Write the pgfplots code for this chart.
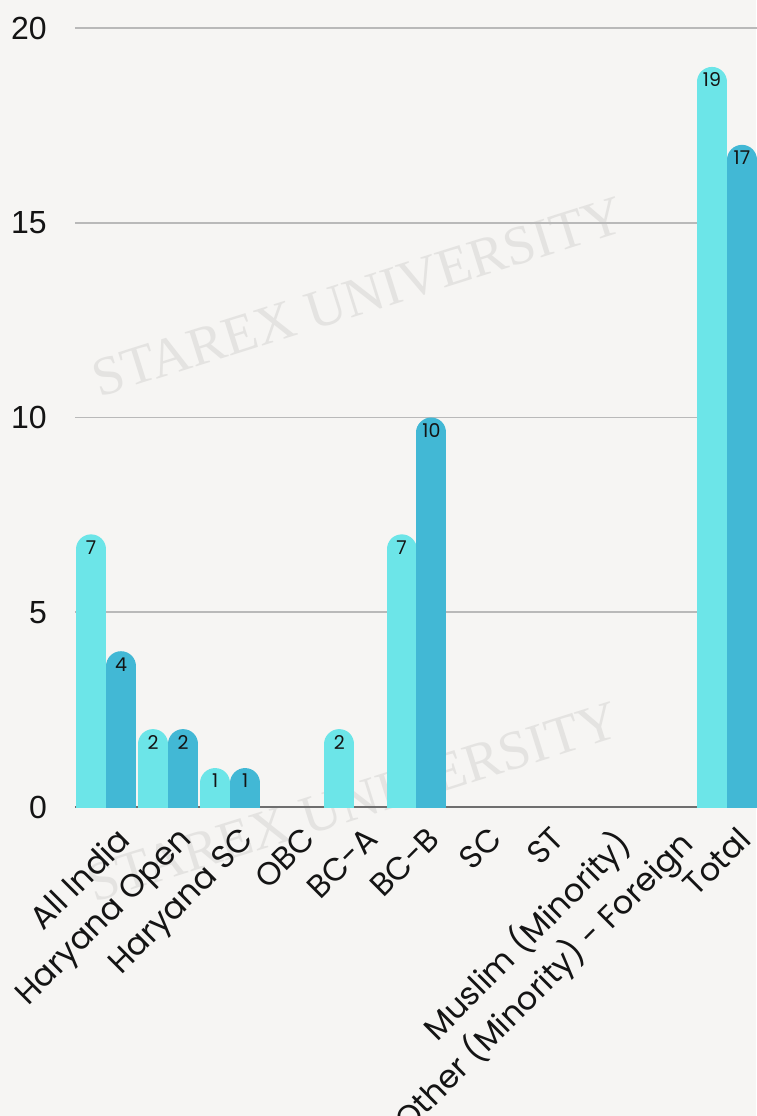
\documentclass[border=0pt]{standalone}
\usepackage{pgfplots}
\pgfplotsset{compat=1.18}
\usepackage{pgfplotstable}
\usepackage{fontspec}
\setmainfont{Poppins}
\newfontfamily\tickfont{Liberation Sans}
\newfontfamily\wmfont{Liberation Serif}
\definecolor{bg}{RGB}{246,245,243}
\definecolor{barA}{RGB}{108,229,232}
\definecolor{barB}{RGB}{66,184,213}
\definecolor{gridc}{RGB}{185,185,185}
\definecolor{zeroc}{RGB}{110,110,110}
\definecolor{wm}{RGB}{228,227,225}
\definecolor{txt}{RGB}{20,20,20}

\pgfplotstableread{
idx a b
0 7 4
1 2 2
2 1 1
3 0 0
4 2 0
5 7 10
6 0 0
7 0 0
8 0 0
9 0 0
10 19 17
}\datatable

\begin{document}
\begin{tikzpicture}
\fill[bg] (-75pt,-309pt) rectangle (681pt,807pt);
\node[text=wm, font=\wmfont\fontsize{55}{55}\selectfont, rotate=17.5] at (283pt,510pt) {STAREX UNIVERSITY};
\node[text=wm, font=\wmfont\fontsize{55}{55}\selectfont, rotate=17.5] at (278pt,5pt) {STAREX UNIVERSITY};
\begin{axis}[
  scale only axis, width=683pt, height=779pt,
  xmin=-0.5, xmax=10.5, ymin=0, ymax=20,
  axis line style={draw=none},
  ytick={5,10,15,20},
  extra y ticks={0},
  extra y tick style={grid style={zeroc, line width=1.6pt}},
  ymajorgrids,
  grid style={gridc, line width=1.6pt},
  major tick length=0pt,
  xtick={0,...,10},
  xticklabels={All India, Haryana Open, Haryana SC, OBC, BC-A, BC-B, SC, ST, Muslim (Minority), Other (Minority) - Foreign, Total},
  xticklabel style={rotate=45, anchor=north east, inner sep=0pt, text=txt,
    font=\fontsize{32}{34}\selectfont, xshift=-6.4pt, yshift=-19pt},
  yticklabel style={font=\tickfont\fontsize{32}{32}\selectfont, text=txt, inner sep=0pt, anchor=east, xshift=-28pt},
  /pgf/number format/assume math mode=true,
  restrict y to domain=0:100,
]
\addplot[ycomb, draw=barA, line width=30pt, line cap=round, mark=none,
  point meta=explicit, nodes near coords,
  nodes near coords style={anchor=center, text=txt, font=\fontsize{19}{19}\selectfont, yshift=2pt}]
  table[x expr=\thisrow{idx}-0.2415, y expr=\thisrow{a}-0.3851, meta=a] {\datatable};
\addplot[ycomb, draw=barB, line width=30pt, line cap=round, mark=none,
  point meta=explicit, nodes near coords,
  nodes near coords style={anchor=center, text=txt, font=\fontsize{19}{19}\selectfont, yshift=2pt}]
  table[x expr=\thisrow{idx}+0.2415, y expr=\thisrow{b}-0.3851, meta=b] {\datatable};
\end{axis}
\pgfresetboundingbox
\useasboundingbox (-75pt,-309pt) rectangle (681pt,807pt);
\end{tikzpicture}
\end{document}
